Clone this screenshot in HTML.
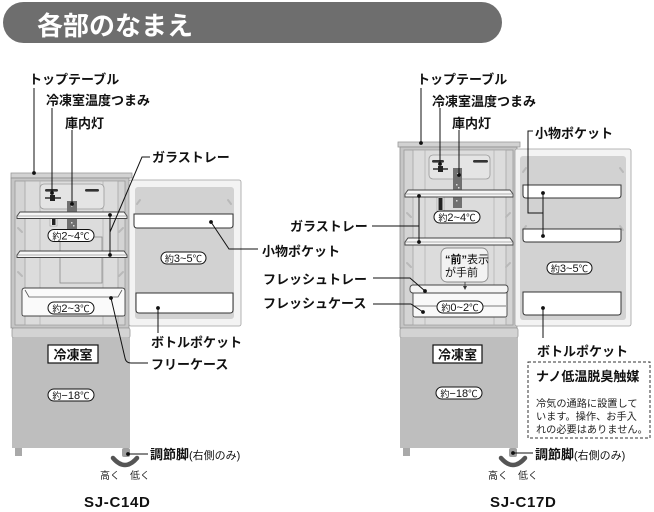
<!DOCTYPE html>
<html><head><meta charset="utf-8"><style>
html,body{margin:0;padding:0;background:#fff;width:654px;height:512px;overflow:hidden}
svg{display:block}
text{font-family:"Liberation Sans","Noto Sans CJK JP",sans-serif}
.l{font-size:13px;font-weight:bold;fill:#111}
.p{font-size:11px;fill:#111}
.s{font-size:10.2px;fill:#222}
.ln{fill:none;stroke:#111;stroke-width:1}
.g{fill:none;stroke:#b9b9b9;stroke-width:2;stroke-linecap:round}
</style></head><body>
<svg width="654" height="512" viewBox="0 0 654 512" xmlns="http://www.w3.org/2000/svg">
<!-- header -->
<rect x="3" y="2" width="499" height="41" rx="20.5" fill="#6e6e6e"/>
<text x="37" y="35" font-size="26" font-weight="bold" fill="#fff">各部のなまえ</text>

<!-- ============ LEFT FRIDGE ============ -->
<rect x="11" y="173" width="121" height="5" fill="#d2d2d2" stroke="#9a9a9a" stroke-width="0.8"/>
<rect x="11" y="178" width="118" height="150" fill="#c6c6c6" stroke="#8f8f8f" stroke-width="0.8"/>
<rect x="15" y="181" width="110" height="144" fill="#d4d4d4" stroke="#9a9a9a" stroke-width="0.8"/>
<rect x="25" y="181" width="93" height="144" fill="#dcdcdc" stroke="#a5a5a5" stroke-width="0.8"/>
<line x1="40" y1="181" x2="40" y2="325" stroke="#b3b3b3" stroke-width="0.8"/>
<line x1="103" y1="181" x2="103" y2="325" stroke="#b3b3b3" stroke-width="0.8"/>
<rect x="60" y="237" width="42" height="46" fill="none" stroke="#8a8a8a" stroke-width="0.8"/>
<path class="g" d="M18,228 L22,232 M18,272 L22,276 M123,228 L119,232 M123,272 L119,276"/>
<!-- control panel -->
<rect x="40" y="184" width="64" height="25" rx="4" fill="#e4e4e4" stroke="#9a9a9a" stroke-width="0.8"/>
<rect x="45" y="189" width="13" height="2.6" rx="1.3" fill="#333"/>
<rect x="85" y="189" width="14" height="2.6" rx="1.3" fill="#333"/>
<line x1="45" y1="198" x2="61" y2="198" stroke="#222" stroke-width="1.4"/>
<rect x="50" y="195" width="5" height="6" fill="#222"/>
<!-- light -->
<rect x="67" y="201" width="10" height="28" fill="#707070"/>
<rect x="71" y="205" width="1.5" height="1.5" fill="#fff"/><rect x="71" y="222" width="1.5" height="1.5" fill="#ddd"/><rect x="73" y="225" width="1.5" height="1.5" fill="#ddd"/>
<!-- switch -->
<rect x="50" y="217" width="7" height="9" fill="#eee" stroke="#999" stroke-width="0.6"/>
<rect x="52" y="218" width="3.5" height="7" fill="#222"/>
<!-- shelves -->
<path d="M20,212 L124,212 L127,216 L127,218.5 L17,218.5 L17,216 Z" fill="#f6f6f6" stroke="#444" stroke-width="0.9"/>
<line x1="17" y1="216" x2="127" y2="216" stroke="#666" stroke-width="0.6"/>
<path d="M20,251 L124,251 L127,255 L127,257.5 L17,257.5 L17,255 Z" fill="#f6f6f6" stroke="#444" stroke-width="0.9"/>
<line x1="17" y1="255" x2="127" y2="255" stroke="#666" stroke-width="0.6"/>
<!-- free case -->
<path d="M22,291 Q22,288 25,288 L122,288 Q125,288 125,291 L125,314 Q125,316 123,316 L24,316 Q22,316 22,314 Z" fill="#fafafa" stroke="#444" stroke-width="0.9"/>
<path d="M25,290 L29,297 L118,297 L122,290" fill="none" stroke="#555" stroke-width="0.8"/>
<!-- left door -->
<rect x="129" y="180" width="112" height="146" rx="2" fill="#f3f3f3" stroke="#a0a0a0" stroke-width="0.8"/>
<rect x="135" y="187" width="99" height="132" rx="3" fill="#d2d2d2"/>
<path class="g" d="M137,204 L140,200 M231,204 L228,200"/>
<path d="M134,214 H233 V225 Q233,228 230,228 H137 Q134,228 134,225 Z" fill="#fff" stroke="#333" stroke-width="1"/>
<path d="M136,293 H233 V310 Q233,313 230,313 H139 Q136,313 136,310 Z" fill="#fff" stroke="#333" stroke-width="1"/>
<!-- freezer -->
<rect x="12" y="328" width="118" height="10" rx="2" fill="#d3d3d3" stroke="#9a9a9a" stroke-width="0.8"/>
<rect x="12" y="338" width="118" height="110" fill="#bebebe"/>
<rect x="15" y="448" width="7" height="8" fill="#a9a9a9"/>
<rect x="122" y="448" width="8" height="9" rx="2" fill="#a0a0a0"/>
<path d="M113,458 Q125,472 137,458" fill="none" stroke="#555" stroke-width="4.5" stroke-linecap="round"/>
<rect x="48" y="345" width="50" height="18" fill="#fff" stroke="#111" stroke-width="1.2"/>
<text x="73" y="359.5" class="l" font-size="14" text-anchor="middle">冷凍室</text>

<!-- pills left -->
<rect x="48" y="229.5" width="46" height="12" rx="6" fill="#fff" stroke="#111"/>
<text x="71" y="239.5" text-anchor="middle" class="p"><tspan font-size="9">約</tspan>2~4<tspan font-size="9.5">℃</tspan></text>
<rect x="48" y="302" width="46" height="12" rx="6" fill="#fff" stroke="#111"/>
<text x="71" y="312" text-anchor="middle" class="p"><tspan font-size="9">約</tspan>2~3<tspan font-size="9.5">℃</tspan></text>
<rect x="161" y="252" width="45" height="12" rx="6" fill="#fff" stroke="#111"/>
<text x="183.5" y="262" text-anchor="middle" class="p"><tspan font-size="9">約</tspan>3~5<tspan font-size="9.5">℃</tspan></text>
<rect x="48" y="389" width="46" height="12" rx="6" fill="#fff" stroke="#111"/>
<text x="71" y="399" text-anchor="middle" class="p"><tspan font-size="9">約</tspan>−18<tspan font-size="9.5">℃</tspan></text>

<!-- left labels -->
<text x="29" y="84" class="l">トップテーブル</text>
<text x="46" y="105" class="l">冷凍室温度つまみ</text>
<text x="65" y="128" class="l">庫内灯</text>
<text x="152" y="162" class="l">ガラストレー</text>
<text x="262" y="256" class="l" font-size="13.5">小物ポケット</text>
<text x="151" y="347" class="l">ボトルポケット</text>
<text x="151" y="369" class="l">フリーケース</text>
<text x="150" y="459" class="l">調節脚<tspan font-size="11" font-weight="normal">(右側のみ)</tspan></text>
<text x="100" y="479" font-size="10" fill="#222">高く　低く</text>
<text x="84" y="507" font-size="15" font-weight="bold" letter-spacing="0.7" fill="#111">SJ-C14D</text>

<!-- left connectors -->
<path class="ln" d="M34,88 V172 M52,108 V193 M72,130 V204 M150,157 H142 L110,232 M110,215 V255 M258,249 H229 L211,222 M158,308 V333 M111,298 L125,358 Q126,363 131,363 H148 M128,454 H148"/>
<g fill="#111">
<circle cx="34" cy="173" r="1.9"/><circle cx="52" cy="193" r="1.9"/><circle cx="72" cy="204" r="1.9"/>
<circle cx="110" cy="215" r="1.9"/><circle cx="110" cy="255" r="1.9"/><circle cx="211" cy="222" r="1.9"/>
<circle cx="158" cy="308" r="1.9"/><circle cx="111" cy="298" r="1.9"/><circle cx="128" cy="454" r="1.9"/>
</g>

<!-- ============ RIGHT FRIDGE ============ -->
<rect x="398" y="142" width="122" height="5" fill="#d2d2d2" stroke="#9a9a9a" stroke-width="0.8"/>
<rect x="400" y="147" width="117" height="181" fill="#c6c6c6" stroke="#8f8f8f" stroke-width="0.8"/>
<rect x="404" y="150" width="109" height="175" fill="#d4d4d4" stroke="#9a9a9a" stroke-width="0.8"/>
<rect x="413" y="150" width="93" height="175" fill="#dcdcdc" stroke="#a5a5a5" stroke-width="0.8"/>
<line x1="425" y1="150" x2="425" y2="325" stroke="#b3b3b3" stroke-width="0.8"/>
<line x1="494" y1="150" x2="494" y2="325" stroke="#b3b3b3" stroke-width="0.8"/>
<path class="g" d="M407,213 L411,217 M407,263 L411,267 M510,213 L506,217 M510,263 L506,267"/>
<rect x="429" y="155" width="61" height="24" rx="4" fill="#e4e4e4" stroke="#9a9a9a" stroke-width="0.8"/>
<rect x="432" y="160" width="12" height="2.6" rx="1.3" fill="#333"/>
<rect x="473" y="160" width="15" height="2.6" rx="1.3" fill="#333"/>
<line x1="433" y1="169" x2="448" y2="169" stroke="#222" stroke-width="1.4"/>
<rect x="438" y="166" width="5" height="6" fill="#222"/>
<rect x="453" y="168" width="9" height="40" fill="#707070"/>
<rect x="457" y="173" width="1.5" height="1.5" fill="#fff"/><rect x="456" y="184" width="1.5" height="1.5" fill="#ddd"/><rect x="458" y="187" width="1.5" height="1.5" fill="#ddd"/><rect x="456" y="200" width="1.5" height="1.5" fill="#ddd"/>
<rect x="437" y="197" width="7" height="14" fill="#eee" stroke="#999" stroke-width="0.6"/>
<rect x="438.5" y="198" width="4" height="12" fill="#222"/>
<path d="M408,190 L510,190 L513,194 L513,197 L405,197 L405,194 Z" fill="#f6f6f6" stroke="#444" stroke-width="0.9"/>
<line x1="405" y1="194" x2="513" y2="194" stroke="#666" stroke-width="0.6"/>
<path d="M408,238 L510,238 L513,242 L513,245 L405,245 L405,242 Z" fill="#f6f6f6" stroke="#444" stroke-width="0.9"/>
<line x1="405" y1="242" x2="513" y2="242" stroke="#666" stroke-width="0.6"/>
<!-- fresh case -->
<rect x="413" y="291" width="94" height="26" rx="2" fill="#f8f8f8" stroke="#444" stroke-width="0.9"/>
<line x1="414" y1="306" x2="506" y2="306" stroke="#555" stroke-width="0.8"/>
<rect x="410" y="285" width="98" height="8" rx="3" fill="#f4f4f4" stroke="#444" stroke-width="0.9"/>
<!-- callout -->
<rect x="441" y="248" width="47" height="34" rx="6" fill="#f2f2f2" stroke="#8a8a8a" stroke-width="0.9"/>
<text x="445" y="263" font-size="11" fill="#111"><tspan font-weight="bold">“前”</tspan>表示</text>
<text x="445" y="276" font-size="11" fill="#111">が手前</text>
<line x1="465" y1="282" x2="465" y2="288" stroke="#333" stroke-width="0.8"/>
<path d="M463,286 L467,286 L465,290 Z" fill="#333"/>
<!-- right door -->
<rect x="515" y="149" width="116" height="177" rx="2" fill="#f3f3f3" stroke="#a0a0a0" stroke-width="0.8"/>
<rect x="520" y="156" width="106" height="164" rx="3" fill="#d2d2d2"/>
<path class="g" d="M523,172 L526,168 M623,172 L620,168 M523,230 L526,226 M623,230 L620,226"/>
<path d="M523,185 H621 V195 Q621,198 618,198 H526 Q523,198 523,195 Z" fill="#fff" stroke="#333" stroke-width="1"/>
<path d="M523,229 H621 V239 Q621,242 618,242 H526 Q523,242 523,239 Z" fill="#fff" stroke="#333" stroke-width="1"/>
<path d="M523,292 H621 V312 Q621,315 618,315 H526 Q523,315 523,312 Z" fill="#fff" stroke="#333" stroke-width="1"/>
<!-- freezer -->
<rect x="400" y="328" width="118" height="10" rx="2" fill="#d3d3d3" stroke="#9a9a9a" stroke-width="0.8"/>
<rect x="400" y="338" width="118" height="110" fill="#bebebe"/>
<rect x="403" y="448" width="7" height="8" fill="#a9a9a9"/>
<rect x="509" y="448" width="8" height="9" rx="2" fill="#a0a0a0"/>
<path d="M501,458 Q513,472 525,458" fill="none" stroke="#555" stroke-width="4.5" stroke-linecap="round"/>
<rect x="433" y="345" width="49" height="18" fill="#fff" stroke="#111" stroke-width="1.2"/>
<text x="457.5" y="359.5" class="l" font-size="14" text-anchor="middle">冷凍室</text>

<!-- pills right -->
<rect x="434" y="211" width="46" height="12" rx="6" fill="#fff" stroke="#111"/>
<text x="457" y="221" text-anchor="middle" class="p"><tspan font-size="9">約</tspan>2~4<tspan font-size="9.5">℃</tspan></text>
<rect x="437" y="301" width="46" height="12" rx="6" fill="#fff" stroke="#111"/>
<text x="460" y="311" text-anchor="middle" class="p"><tspan font-size="9">約</tspan>0~2<tspan font-size="9.5">℃</tspan></text>
<rect x="547" y="262" width="45" height="12" rx="6" fill="#fff" stroke="#111"/>
<text x="569.5" y="272" text-anchor="middle" class="p"><tspan font-size="9">約</tspan>3~5<tspan font-size="9.5">℃</tspan></text>
<rect x="436" y="387" width="46" height="12" rx="6" fill="#fff" stroke="#111"/>
<text x="459" y="397" text-anchor="middle" class="p"><tspan font-size="9">約</tspan>−18<tspan font-size="9.5">℃</tspan></text>

<!-- right labels -->
<text x="417" y="84" class="l">トップテーブル</text>
<text x="432" y="106" class="l">冷凍室温度つまみ</text>
<text x="452" y="128" class="l">庫内灯</text>
<text x="535" y="138" class="l" font-size="13.5">小物ポケット</text>
<text x="290" y="231" class="l">ガラストレー</text>
<text x="263" y="284" class="l">フレッシュトレー</text>
<text x="263" y="308" class="l">フレッシュケース</text>
<text x="537" y="356" class="l">ボトルポケット</text>
<text x="535" y="459" class="l">調節脚<tspan font-size="11" font-weight="normal">(右側のみ)</tspan></text>
<text x="488" y="479" font-size="10" fill="#222">高く　低く</text>
<text x="490" y="507" font-size="15" font-weight="bold" letter-spacing="0.7" fill="#111">SJ-C17D</text>

<!-- nano box -->
<rect x="528" y="362" width="122" height="76" fill="#fff" stroke="#333" stroke-width="1" stroke-dasharray="3,2"/>
<text x="536" y="381" class="l">ナノ低温脱臭触媒</text>
<text x="536" y="407" class="s">冷気の通路に設置して</text>
<text x="536" y="420" class="s">います。操作、お手入</text>
<text x="536" y="433" class="s">れの必要はありません。</text>

<!-- right connectors -->
<path class="ln" d="M421,88 V142 M440,108 V164 M459,130 V175 M533,131 H528 V213 H543 M543,193 V236 M372,226 H419 M419,196 V242 M373,278 H410 L425,291 M373,304 H411 L423,312 M543,308 V338 M513,453 H533"/>
<g fill="#111">
<circle cx="421" cy="143" r="1.9"/><circle cx="440" cy="164" r="1.9"/><circle cx="459" cy="175" r="1.9"/>
<circle cx="543" cy="193" r="1.9"/><circle cx="543" cy="236" r="1.9"/><circle cx="419" cy="196" r="1.9"/>
<circle cx="419" cy="242" r="1.9"/><circle cx="425" cy="291" r="1.9"/><circle cx="423" cy="312" r="1.9"/>
<circle cx="543" cy="308" r="1.9"/><circle cx="513" cy="453" r="1.9"/>
</g>
</svg>
</body></html>
